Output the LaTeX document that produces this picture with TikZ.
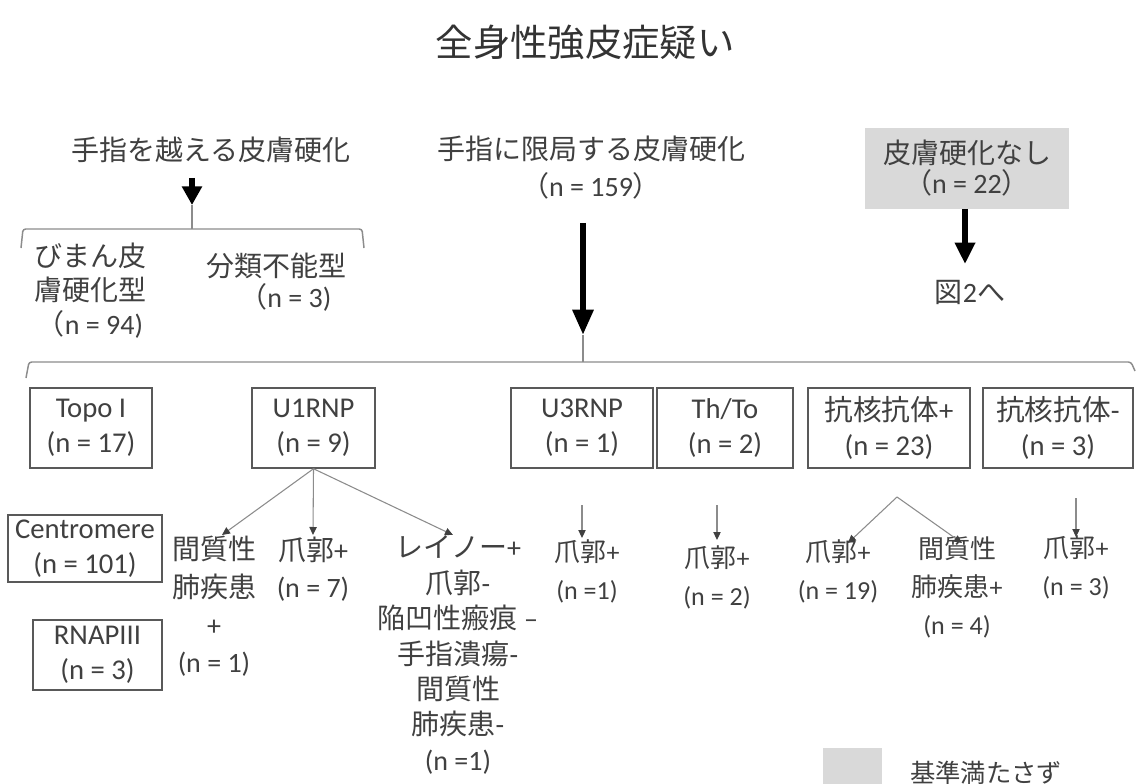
\documentclass[tikz,border=0pt]{standalone}
\usepackage{fontspec}
\setmainfont{Carlito}
\newfontfamily\jpf{Noto Sans CJK JP}
\newcommand\J[1]{{\jpf #1}}
\usetikzlibrary{arrows.meta}
\definecolor{txt}{HTML}{404040}
\definecolor{ttl}{HTML}{333333}
\definecolor{boxc}{HTML}{595959}
\definecolor{linec}{HTML}{8C8C8C}
\definecolor{greyfill}{HTML}{D9D9D9}
\tikzset{
  lblA/.style={text=txt, inner sep=0pt, align=center, font=\fontsize{21pt}{25.5pt}\selectfont},
  lblB/.style={text=txt, inner sep=0pt, align=center, font=\fontsize{21pt}{28.2pt}\selectfont},
  lblC/.style={text=txt, inner sep=0pt, align=center, font=\fontsize{19.5pt}{28.5pt}\selectfont},
  abbox/.style={draw=boxc, line width=1.1pt, text=txt, align=center, inner sep=0pt,
    minimum height=60pt, font=\fontsize{21.5pt}{26.25pt}\selectfont},
  bigarrow/.style={line width=4.5pt, black, -{Triangle[width=15pt,length=19pt]}},
  midarrow/.style={line width=4pt, black, -{Triangle[width=14.5pt,length=14pt]}},
  thinarrow/.style={line width=0.8pt, linec, -{Triangle[width=5.5pt,length=6pt,color=black!75]}},
  bracketline/.style={line width=1.1pt, linec, rounded corners=2pt},
}
\begin{document}
\begin{tikzpicture}[x=0.75pt,y=-0.75pt]
\useasboundingbox (0,0) rectangle (1137,784);
\fill[white] (0,0) rectangle (1137,784);

% title
\node[text=ttl, inner sep=0pt, font=\fontsize{28pt}{34pt}\selectfont] (title) at (585,42) {\J{全身性強皮症疑い}};

% top branch labels
\node[lblA] (over) at (211,150) {\J{手指を越える皮膚硬化}};
\node[lblA, font=\fontsize{21pt}{27.75pt}\selectfont] (lim) at (591,168) {\J{手指に限局する皮膚硬化}\\\J{（}n = 159\J{）}};
\node[fill=greyfill, minimum width=153pt, minimum height=60.75pt, text=txt, align=center, inner sep=0pt,
      font=\fontsize{21pt}{22.5pt}\selectfont] (none) at (967,168.5) {\J{皮膚硬化なし}\\\J{（}n = 22\J{）}};
\node[lblA] (fig2) at (970,292) {\J{図}2\J{へ}};

% left bracket group
\coordinate (overT) at (192,178);
\coordinate (overB) at (192,205);
\draw[midarrow] (overT) -- (overB);
\coordinate (sbr) at (192,229);
\draw[line width=1.1pt, linec] (overB) -- (sbr);
\draw[bracketline] (21,248) -- (23,229) -- (362,229) -- (364,248);
\node[lblA] (diffuse) at (90,291) {\J{びまん皮}\\\J{膚硬化型}\\\J{（}n = 94)};
\node[lblA, font=\fontsize{21pt}{23.25pt}\selectfont] (unclass) at (276,282) {\J{分類不能型}\\\hspace*{14pt}\J{（}n = 3)};

% big arrow and bracket
\coordinate (limT) at (583,223);
\coordinate (limB) at (583,335);
\draw[bigarrow] (limT) -- (limB);
\coordinate (bbr) at (583,362);
\draw[line width=1.1pt, linec] (limB) -- (bbr);
\draw[bracketline] (26,378) -- (29,362) -- (1131,362) -- (1135,371);

% none arrow
\coordinate (noneT) at (965,209);
\coordinate (noneB) at (965,264);
\draw[midarrow, -{Triangle[width=14.5pt,length=16pt]}] (noneT) -- (noneB);

% antibody boxes
\node[abbox, minimum width=91.5pt] (topo) at (91,428) {Topo I\\(n = 17)};
\node[abbox, minimum width=92.25pt] (u1) at (313.5,428) {U1RNP\\(n = 9)};
\node[abbox, minimum width=106.5pt] (u3) at (582,428) {U3RNP\\(n = 1)};
\node[abbox, minimum width=102pt] (thto) at (725,428) {Th/To\\(n = 2)};
\node[abbox, minimum width=121.5pt] (anap) at (889,428) {\J{抗核抗体}+\\(n = 23)};
\node[abbox, minimum width=112.5pt] (anan) at (1058,428) {\J{抗核抗体}-\\(n = 3)};
\node[abbox, minimum width=115.5pt, minimum height=50.25pt] (centro) at (85,548.5) {Centromere\\(n = 101)};
\node[abbox, minimum width=96.75pt, minimum height=52.5pt] (rnap) at (97.5,655) {RNAPIII\\(n = 3)};

% U1RNP outcomes
\node[lblB] (ild1) at (214,606.5) {\J{間質性}\\\J{肺疾患}\\+\\(n = 1)};
\node[lblB] (nail7) at (313,569) {\J{爪郭}+\\(n = 7)};
\node[lblB, font=\fontsize{21pt}{26.6pt}\selectfont] (ray) at (458,655) {\J{レイノー}+\\\J{爪郭}-\\\J{陥凹性瘢痕} –\\\J{手指潰瘍}-\\\J{間質性}\\\J{肺疾患}-\\(n =1)};
\coordinate (u1a) at (222,535);
\coordinate (u1b) at (313,535);
\coordinate (u1c) at (453,535);
\draw[thinarrow] (u1.south) -- (u1a);
\draw[thinarrow] (u1.south) -- (u1b);
\draw[thinarrow] (u1.south) -- (u1c);

% other outcomes
\node[lblC] (nail1) at (587,571) {\J{爪郭}+\\(n =1)};
\node[lblC] (nail2) at (717,577) {\J{爪郭}+\\(n = 2)};
\node[lblC] (nail19) at (838,571) {\J{爪郭}+\\(n = 19)};
\node[lblC] (ild4) at (957,587) {\J{間質性}\\\J{肺疾患}+\\(n = 4)};
\node[lblC] (nail3) at (1076,567) {\J{爪郭}+\\(n = 3)};

\coordinate (u3s) at (582,505);
\coordinate (u3e) at (582,538);
\draw[thinarrow] (u3s) -- (u3e);
\coordinate (ths) at (717,505);
\coordinate (the) at (717,540);
\draw[thinarrow] (ths) -- (the);
\coordinate (aps) at (897,497);
\coordinate (apa) at (848,543);
\coordinate (apb) at (962,543);
\draw[thinarrow] (aps) -- (apa);
\draw[thinarrow] (aps) -- (apb);
\coordinate (ans) at (1076,498);
\coordinate (ane) at (1076,537);
\draw[thinarrow] (ans) -- (ane);

% legend
\fill[greyfill] (823,748) rectangle (882,790);
\node[text=txt, inner sep=0pt, font=\fontsize{19pt}{22pt}\selectfont] (legend) at (986,773) {\J{基準満たさず}};
\end{tikzpicture}
\end{document}
